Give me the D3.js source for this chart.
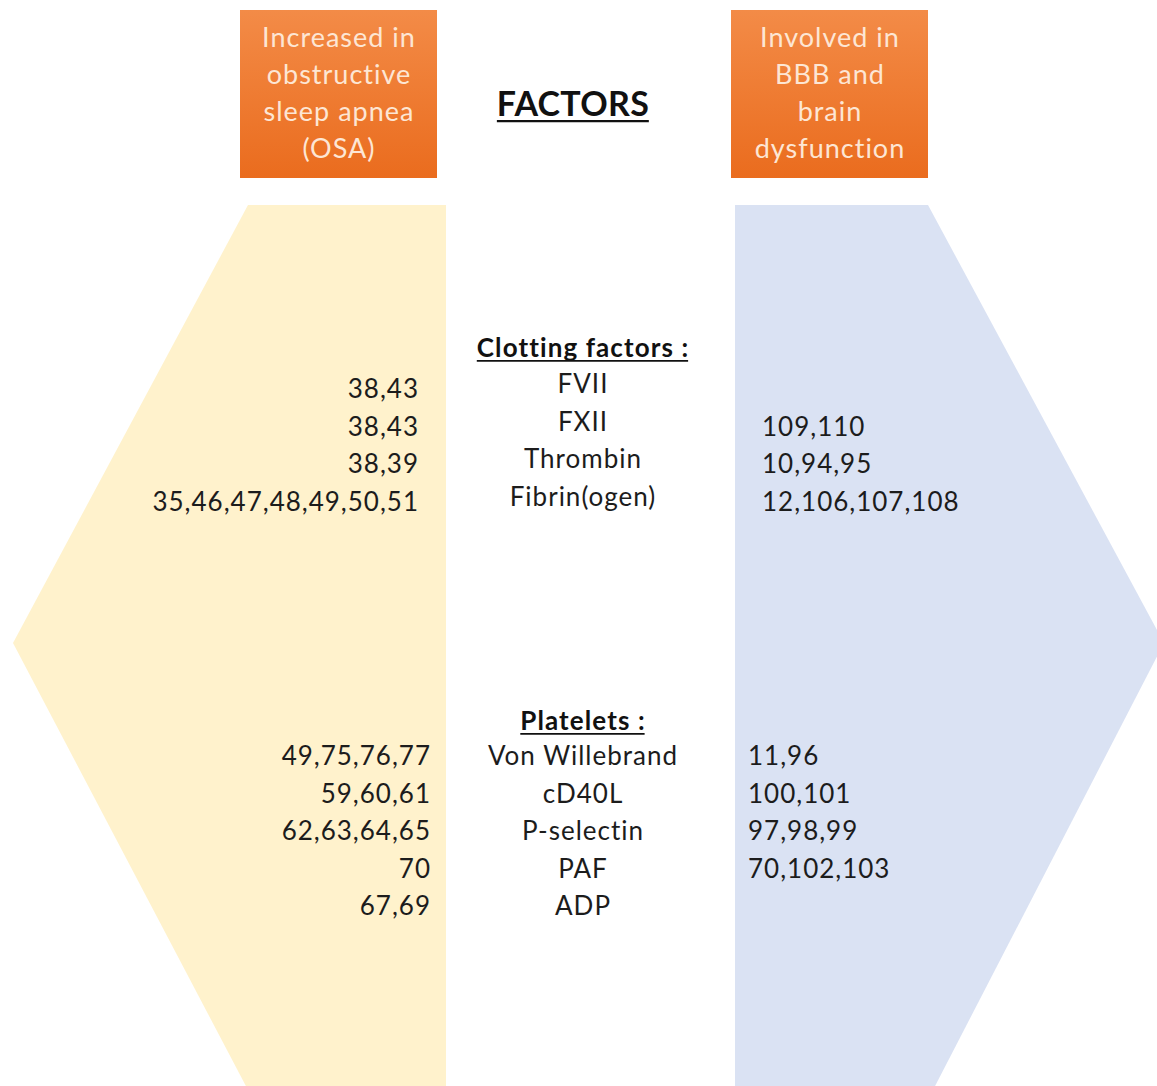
<!DOCTYPE html>
<html>
<head>
<meta charset="utf-8">
<script src="https://cdn.jsdelivr.net/npm/d3@7"></script>
<style>
  body { margin: 0; background: #fff; }
  text { font-family: Lato, "Open Sans", sans-serif; }
</style>
</head>
<body>
<svg id="chart" width="1157" height="1086"></svg>
<script>
// header boxes
var headerLeft = ["Increased in", "obstructive", "sleep apnea", "(OSA)"];
var headerRight = ["Involved in", "BBB and", "brain", "dysfunction"];

// clotting factors section
var clottingTitle = "Clotting factors :";
var clottingFactors = ["FVII", "FXII", "Thrombin", "Fibrin(ogen)"];
var clottingOSA = ["38,43", "38,43", "38,39", "35,46,47,48,49,50,51"];
var clottingBBB = ["", "109,110", "10,94,95", "12,106,107,108"];

// platelets section
var plateletTitle = "Platelets :";
var plateletFactors = ["Von Willebrand", "cD40L", "P-selectin", "PAF", "ADP"];
var plateletOSA = ["49,75,76,77", "59,60,61", "62,63,64,65", "70", "67,69"];
var plateletBBB = ["11,96", "100,101", "97,98,99", "70,102,103", ""];

var width = 1157, height = 1086;
var svg = d3.select("#chart");

var defs = svg.append("defs");
var grad = defs.append("linearGradient")
  .attr("id", "orangeGrad")
  .attr("x1", 0).attr("y1", 0).attr("x2", 0).attr("y2", 1);
grad.append("stop").attr("offset", "0%").attr("stop-color", "#f38b47");
grad.append("stop").attr("offset", "100%").attr("stop-color", "#ea6c1e");

// the two arrow shapes (hexagons cut at the middle)
var line = d3.line();
var midY = 643, topY = 205, botY = 1090;

svg.append("path")
  .attr("d", line([[248, topY], [446, topY], [446, botY], [248, botY], [13, midY]]) + "Z")
  .style("fill", "#fff2cc");

svg.append("path")
  .attr("d", line([[735, topY], [928, topY], [1164, midY], [933, botY], [735, botY]]) + "Z")
  .style("fill", "#dae2f3");

// header boxes
var boxes = [
  {x: 240, lines: headerLeft},
  {x: 731, lines: headerRight}
];
var lineY = d3.scalePoint().domain(d3.range(4)).range([47, 158]);

boxes.forEach(function(b) {
  var g = svg.append("g").attr("transform", "translate(" + b.x + ",10)");
  g.append("rect")
    .attr("width", 197).attr("height", 168)
    .style("fill", "url(#orangeGrad)");
  g.selectAll("text").data(b.lines).enter().append("text")
    .attr("x", 99)
    .attr("y", function(d, i) { return lineY(i) - 10; })
    .attr("text-anchor", "middle")
    .style("font-size", "27px")
    .style("letter-spacing", "1px")
    .style("fill", "#fde6d4")
    .text(function(d) { return d; });
});

// underlined bold titles
function title(txt, x, y, size, spacing) {
  var t = svg.append("text")
    .attr("x", x).attr("y", y)
    .attr("text-anchor", "middle")
    .style("font-size", size + "px")
    .style("font-weight", "bold")
    .style("letter-spacing", spacing + "px")
    .style("fill", "#111")
    .text(txt);
  var w = t.node().getComputedTextLength();
  svg.append("line")
    .attr("x1", x - w / 2).attr("x2", x + w / 2 - spacing)
    .attr("y1", y + size * 0.15).attr("y2", y + size * 0.15)
    .style("stroke", "#111")
    .style("stroke-width", size * 0.07);
}

title("FACTORS", 573, 116, 34, 0.3);

var midX = 583;

function section(titleTxt, titleY, names, osa, bbb, rowY, nameShift, osaX, bbbX) {
  title(titleTxt, midX, titleY, 26, 1.1);
  var rows = names.map(function(n, i) { return {name: n, osa: osa[i], bbb: bbb[i], i: i}; });

  var body = svg.append("g")
    .style("font-size", "26px")
    .style("letter-spacing", "1px")
    .style("fill", "#1c1c1c");

  body.selectAll(null).data(rows).enter().append("text")
    .attr("x", midX)
    .attr("y", function(d) { return rowY(d.i) + nameShift; })
    .attr("text-anchor", "middle")
    .text(function(d) { return d.name; });

  body.selectAll(null).data(rows).enter().append("text")
    .attr("x", osaX + 1)
    .attr("y", function(d) { return rowY(d.i); })
    .attr("text-anchor", "end")
    .text(function(d) { return d.osa; });

  body.selectAll(null).data(rows).enter().append("text")
    .attr("x", bbbX)
    .attr("y", function(d) { return rowY(d.i); })
    .attr("text-anchor", "start")
    .text(function(d) { return d.bbb; });
}

var clotY = d3.scalePoint().domain(d3.range(clottingFactors.length)).range([398, 511]);
section(clottingTitle, 357, clottingFactors, clottingOSA, clottingBBB, clotY, -5, 418, 762);

var platY = d3.scalePoint().domain(d3.range(plateletFactors.length)).range([765, 915]);
section(plateletTitle, 730, plateletFactors, plateletOSA, plateletBBB, platY, 0, 430, 748);
</script>
</body>
</html>
